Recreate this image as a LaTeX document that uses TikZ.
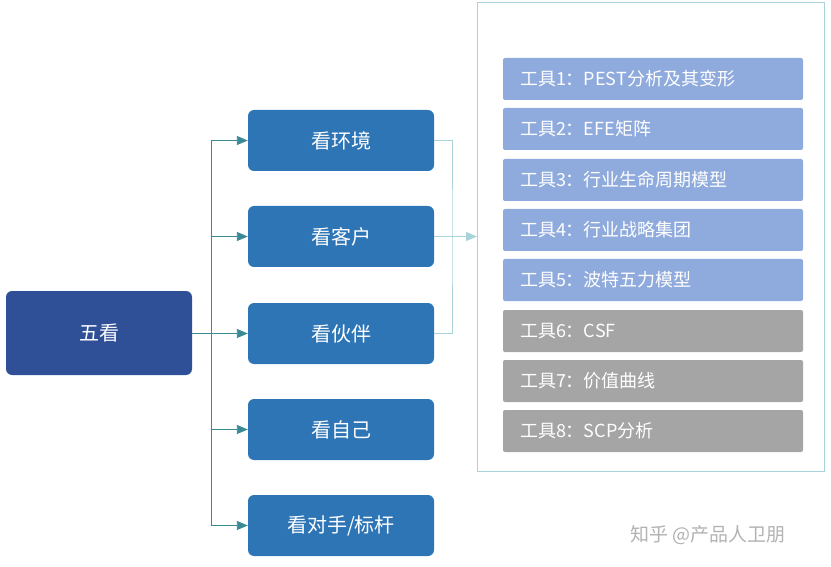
\documentclass[tikz,border=0pt]{standalone}
\usepackage{fontspec}
\setmainfont{Noto Sans CJK SC}
\usetikzlibrary{arrows.meta,positioning}

\definecolor{darkblue}{HTML}{2F5096}
\definecolor{midblue}{HTML}{2E75B6}
\definecolor{toolblue}{HTML}{8FAADC}
\definecolor{toolgray}{HTML}{A5A5A5}
\definecolor{linkteal}{HTML}{3A8A95}
\definecolor{framecol}{HTML}{A9D3DA}

\tikzset{
  root/.style={fill=darkblue, rounded corners=6pt, text=white, minimum width=186pt, minimum height=84pt, font=\fontsize{20}{24}\selectfont},
  look/.style={fill=midblue, rounded corners=6pt, text=white, minimum width=186pt, minimum height=61pt, font=\fontsize{20}{24}\selectfont},
  tool/.style={fill=toolblue, rounded corners=2pt, text=white, minimum width=300pt, minimum height=42pt, inner xsep=0pt, text width=266pt, align=left, font=\fontsize{18}{22}\selectfont},
  toolg/.style={tool, fill=toolgray},
  link/.style={draw=linkteal, line width=0.9pt, -{Triangle[length=11pt,width=9pt]}},
  brace/.style={draw=framecol, line width=0.9pt},
}

\begin{document}
\begin{tikzpicture}[x=1pt,y=-1pt]
\useasboundingbox (0,0) rectangle (831,567);

% left part
\node[root] (wk) at (99,333) {五看};
\node[look] (env) at (341,140.5) {看环境};
\node[look] (cus) at (341,236.5) {看客户};
\node[look] (par) at (341,333.5) {看伙伴};
\node[look] (self) at (341,429.5) {看自己};
\node[look] (rival) at (341,525.5) {看对手/标杆};

\coordinate (trunk) at (211,333);
\draw[linkteal, line width=0.9pt] (wk.east) -- (trunk);
\foreach \n in {env,cus,par,self,rival}
  \draw[link] (trunk) |- (\n.west);

% tools frame
\draw[framecol, line width=1pt] (477,3) rectangle (824,471);
\node[tool] (t1) at (653,79) {工具1：PEST分析及其变形};
\node[tool] (t2) at (653,129) {工具2：EFE矩阵};
\node[tool] (t3) at (653,180) {工具3：行业生命周期模型};
\node[tool] (t4) at (653,230) {工具4：行业战略集团};
\node[tool] (t5) at (653,280) {工具5：波特五力模型};
\node[toolg] (t6) at (653,331) {工具6：CSF};
\node[toolg] (t7) at (653,381) {工具7：价值曲线};
\node[toolg] (t8) at (653,431) {工具8：SCP分析};

% bracket to tools
\coordinate (bk) at (452,236.5);
\coordinate (fr) at (477,236.5);
\draw[brace] (env.east) -| (bk) |- (par.east);
\draw[brace, -{Triangle[length=11pt,width=9pt]}] (cus.east) -- (fr);

\node[text=gray!60, font=\fontsize{19}{22}\selectfont] (wm) at (708,535) {知乎 @产品人卫朋};
\end{tikzpicture}
\end{document}
